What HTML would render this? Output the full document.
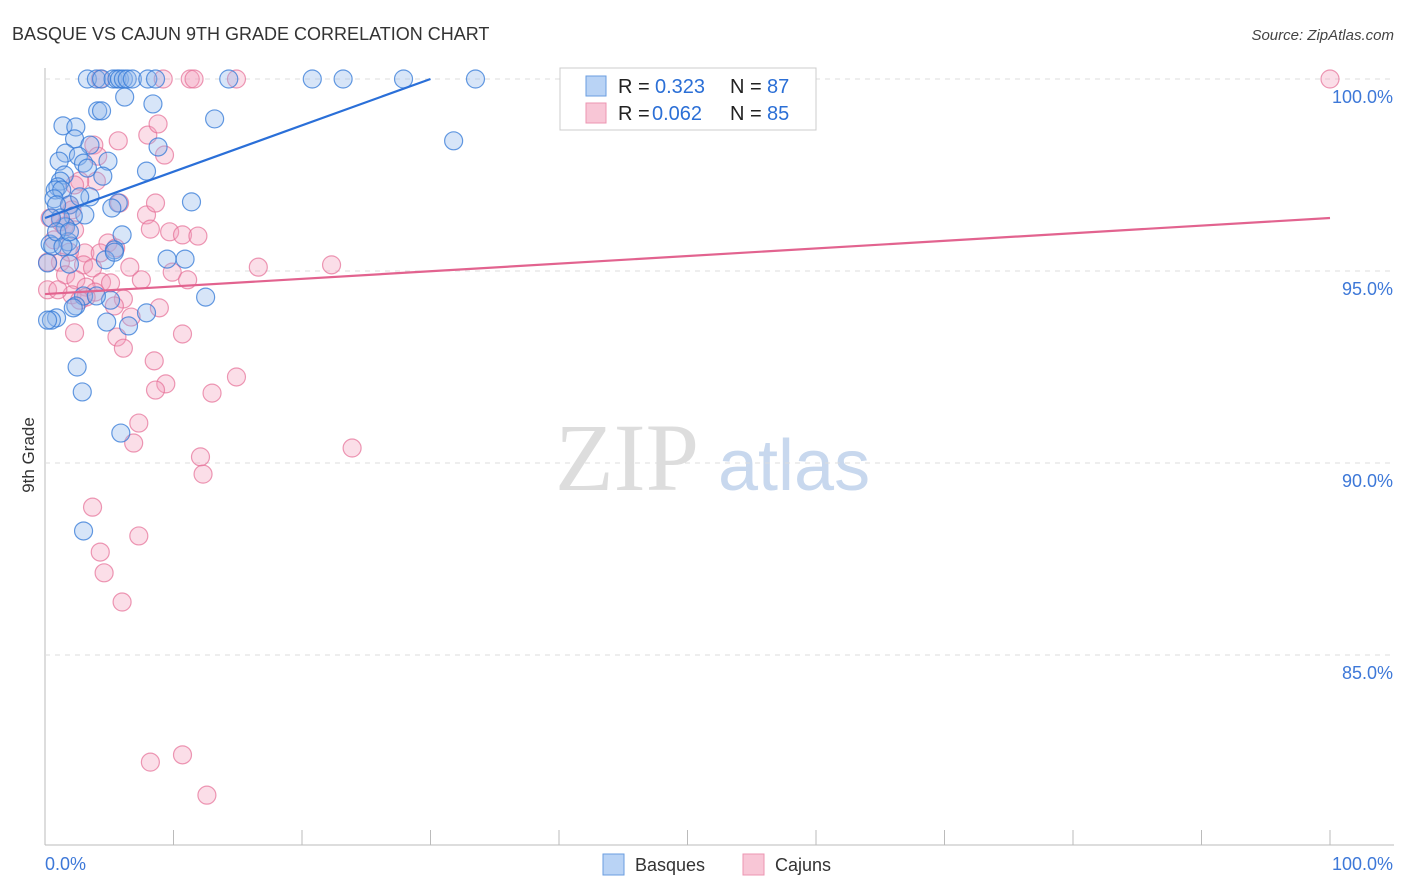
<!DOCTYPE html>
<html><head><meta charset="utf-8"><style>
body{margin:0;background:#fff;font-family:"Liberation Sans",sans-serif;}
svg{display:block}
</style></head><body>
<svg id="c" width="1406" height="892">
<text x="12" y="40" font-size="18" fill="#333">BASQUE VS CAJUN 9TH GRADE CORRELATION CHART</text>
<text x="1394" y="40" font-size="15" fill="#444" font-style="italic" text-anchor="end">Source: ZipAtlas.com</text>
<text x="34" y="455" font-size="17" fill="#333" text-anchor="middle" transform="rotate(-90 34 455)">9th Grade</text>
<text x="555" y="490" font-size="96" fill="#ddd" font-family="Liberation Serif,serif">ZIP</text>
<text x="718" y="490" font-size="72" fill="#c8d8ee">atlas</text>
<g id="grid"></g><g id="pts"></g><g id="lines"></g>
<g>
<rect x="560" y="68" width="256" height="62" fill="#fff" stroke="#ccc"/>
<rect x="586" y="76" width="20" height="20" fill="#b9d3f5" stroke="#6a9ee0"/>
<rect x="586" y="103" width="20" height="20" fill="#f8c6d6" stroke="#ec95b2"/>
<text x="618" y="93" font-size="20" fill="#222">R =</text>
<text x="655" y="93" font-size="20" fill="#2b6fd6">0.323</text>
<text x="730" y="93" font-size="20" fill="#222">N =</text>
<text x="767" y="93" font-size="20" fill="#2b6fd6">87</text>
<text x="618" y="120" font-size="20" fill="#222">R =</text>
<text x="652" y="120" font-size="20" fill="#2b6fd6">0.062</text>
<text x="730" y="120" font-size="20" fill="#222">N =</text>
<text x="767" y="120" font-size="20" fill="#2b6fd6">85</text>
</g>
<g>
<rect x="603" y="854" width="21" height="21" fill="#b9d3f5" stroke="#6a9ee0"/>
<text x="635" y="871" font-size="18" fill="#333">Basques</text>
<rect x="743" y="854" width="21" height="21" fill="#f8c6d6" stroke="#ec95b2"/>
<text x="775" y="871" font-size="18" fill="#333">Cajuns</text>
</g>
</svg>
<script>
const yTicks=[100,95,90,85];
const yTickLabels=["100.0%","95.0%","90.0%","85.0%"];
const xTickLabels=["0.0%","100.0%"];
const basqueX=[3.3,4.0,4.4,5.3,5.6,5.8,6.1,6.4,6.8,8.0,8.6,14.3,20.8,23.2,27.9,33.5,6.2,8.4,4.1,4.4,13.2,1.4,2.4,31.8,2.3,3.5,8.8,1.6,2.6,4.9,1.1,3.0,7.9,3.3,1.5,4.5,1.2,1.0,0.8,1.3,3.5,0.7,11.4,1.9,5.7,0.9,5.2,3.1,2.2,1.6,6.0,1.8,0.4,2.0,0.6,5.4,4.7,9.5,10.9,0.2,1.9,5.4,12.5,3.0,5.1,2.4,2.2,7.9,0.9,0.5,4.8,6.5,2.5,2.9,5.9,3.0,0.2,4.0,1.2,2.7,0.5,0.9,1.4,1.9];
const basqueY=[100,100,100,100,100,100,100,100,100,100,100,100,100,100,100,100,99.53,99.35,99.17,99.17,98.96,98.78,98.75,98.39,98.44,98.28,98.23,98.07,97.99,97.86,97.86,97.81,97.6,97.68,97.5,97.47,97.34,97.19,97.11,97.11,96.93,96.88,96.8,96.72,96.77,96.72,96.64,96.46,96.43,96.15,95.94,95.76,95.7,95.65,95.65,95.55,95.29,95.31,95.31,95.21,95.18,95.49,94.32,94.35,94.24,94.09,94.04,93.91,93.78,93.72,93.67,93.57,92.5,91.85,90.78,88.23,93.72,94.35,96.38,96.93,96.38,96.02,95.63,96.02];
const cajunX=[4.3,9.2,11.3,11.6,14.9,100,5.7,8.0,8.8,9.3,3.8,4.0,2.7,4.1,2.3,7.9,8.6,1.9,2.1,0.4,1.2,1.5,5.8,8.2,9.7,10.7,11.9,2.3,4.9,5.5,3.1,1.9,4.3,3.0,3.7,6.6,9.9,11.1,16.6,22.3,1.2,1.6,2.4,4.4,7.5,3.2,0.2,5.1,3.9,2.1,3.2,6.1,8.9,5.4,6.7,5.6,2.3,10.7,6.1,8.5,9.4,8.6,13.0,14.9,7.3,6.9,23.9,12.1,12.3,3.7,7.3,4.3,4.6,6.0,8.2,10.7,12.6,0.7,0.2,1.0,2.7];
const cajunY=[100,100,100,100,100,100,98.39,98.54,98.83,98.02,98.28,97.34,97.34,97.99,97.24,96.46,96.77,96.72,96.59,96.38,96.28,96.17,96.77,96.09,96.02,95.94,95.91,96.07,95.73,95.6,95.47,95.49,95.47,95.16,95.08,95.1,94.97,94.77,95.1,95.16,95.23,94.9,94.77,94.71,94.77,94.58,94.51,94.69,94.45,94.38,94.32,94.27,94.04,94.09,93.8,93.28,93.39,93.36,92.99,92.66,92.06,91.9,91.82,92.24,91.04,90.52,90.39,90.16,89.71,88.85,88.1,87.68,87.14,86.38,82.21,82.4,81.35,95.81,95.23,94.51,94.24];
const basqueTrend=[96.38,100];   // values at x=0 and x=30
const cajunTrend=[94.4,96.38];   // values at x=0 and x=100
const NS='http://www.w3.org/2000/svg';
const X=v=>45+v*12.85, Y=v=>79+(100-v)*38.4;
function mk(t,a,p){const e=document.createElementNS(NS,t);for(const k in a)e.setAttribute(k,a[k]);p.appendChild(e);return e;}
const grid=document.getElementById('grid');
mk('line',{x1:45,y1:68,x2:45,y2:845,stroke:'#bbb'},grid);
mk('line',{x1:45,y1:845,x2:1394,y2:845,stroke:'#bbb'},grid);
yTicks.forEach((t,i)=>{
 const g=mk('line',{x1:45,y1:Y(t),x2:1394,y2:Y(t),stroke:'#ddd','stroke-dasharray':'5,5'},grid);
 
 
 const l=mk('text',{x:1393,y:Y(t)+24,'font-size':18,fill:'#3d78d8','text-anchor':'end'},grid);
 l.textContent=yTickLabels[i];
 
 
});
for(let i=1;i<=10;i++){const tk=mk('line',{x1:45+i*128.5,y1:830,x2:45+i*128.5,y2:845,stroke:'#bbb'},grid);
 
 }
[[0,'start',45],[1,'end',1393]].forEach(([i,a,x])=>{const l=mk('text',{x:x,y:870,'font-size':18,fill:'#3d78d8','text-anchor':a},grid);l.textContent=xTickLabels[i];
 
 });
const pts=document.getElementById('pts');
cajunX.forEach((x,i)=>{const c=mk('circle',{cx:X(x),cy:Y(cajunY[i]),r:9,fill:'rgba(244,160,188,0.35)',stroke:'rgba(230,110,150,0.7)','stroke-width':1.2},pts);
 
 });
basqueX.forEach((x,i)=>{const c=mk('circle',{cx:X(x),cy:Y(basqueY[i]),r:9,fill:'rgba(140,180,235,0.35)',stroke:'rgba(50,120,215,0.75)','stroke-width':1.2},pts);
 
 });
const lines=document.getElementById('lines');
const bl=mk('line',{x1:X(0),y1:Y(basqueTrend[0]),x2:X(30),y2:Y(basqueTrend[1]),stroke:'#2a6fd8','stroke-width':2.2},lines);


const cl=mk('line',{x1:X(0),y1:Y(cajunTrend[0]),x2:X(100),y2:Y(cajunTrend[1]),stroke:'#e2638f','stroke-width':2.2},lines);


</script>
</body></html>
